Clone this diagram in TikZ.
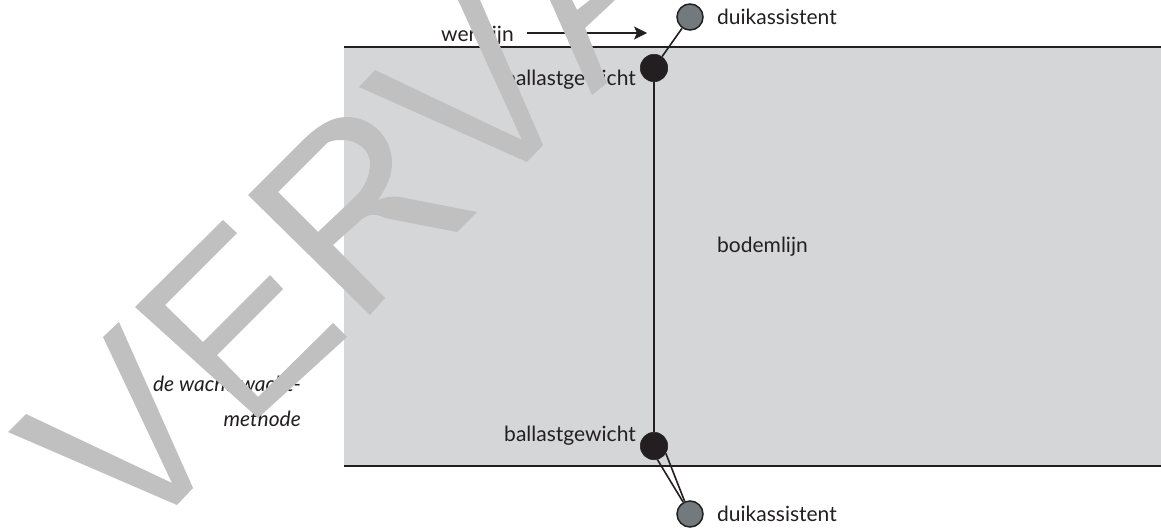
\documentclass[tikz,border=0pt]{standalone}
\usepackage{fontspec}
\usetikzlibrary{arrows.meta}
\setmainfont{Lato}
\definecolor{sea}{HTML}{D5D6D8}
\definecolor{ink}{HTML}{231F20}
\definecolor{wmgray}{HTML}{C0C0C0}
\definecolor{diver}{HTML}{727A7D}
\tikzset{
  x=1pt,y=-1pt,
  lab/.style={font=\fontsize{21}{25}\selectfont,text=ink,inner sep=0pt},
  itlab/.style={font=\fontsize{21}{25}\selectfont\itshape,text=ink,inner sep=0pt},
  rope/.style={draw=ink,line width=1.6pt},
  weight/.style={circle,fill=ink,draw=ink,line width=.5pt,minimum size=27.5pt,inner sep=0pt},
  assist/.style={circle,fill=diver,draw=ink,line width=1.5pt,minimum size=26pt,inner sep=0pt},
  wmark/.style={fill=wmgray,draw=none}
}
\begin{document}
\begin{tikzpicture}
\useasboundingbox (0,0) rectangle (1161,530);
\fill[white] (0,0) rectangle (1161,530);
\fill[sea] (344,47) rectangle (1161,466);
\coordinate (s1) at (344,47); \coordinate (s2) at (1161,47);
\coordinate (b1) at (344,466); \coordinate (b2) at (1161,466);
\draw[rope] (s1) -- (s2);
\draw[rope] (b1) -- (b2);
\node[weight] (w1) at (654,68) {};
\node[weight] (w2) at (654,446) {};
\node[assist] (a1) at (690,17) {};
\node[assist] (a2) at (690,514) {};
\draw[rope] (w1) -- (w2);
\draw[rope] (w1) -- (a1);
\draw[rope] (w2.-76) -- (a2.120);
\draw[rope] (w2.-32) -- (a2.113);
\node[lab,anchor=base west] (t1) at (717,24) {duikassistent};
\node[lab,anchor=base west] (t2) at (717,521) {duikassistent};
\node[lab,anchor=base east] (t3) at (636,85) {ballastgewicht};
\node[lab,anchor=base east] (t4) at (636,441) {ballastgewicht};
\node[lab,anchor=base west] (t5) at (717,252) {bodemlijn};
\node[lab,anchor=base west] (t6) at (441,41) {werklijn};
\coordinate (arr) at (647,33);
\coordinate (arrs) at (527,33);
\draw[draw=ink,line width=1.4pt,-{Stealth[length=13pt,width=13pt,inset=3pt]}] (arrs) -- (arr);
\node[itlab,anchor=base east] (t7) at (301,391) {de wacht-wacht-};
\node[itlab,anchor=base east] (t8) at (301,426) {methode};
% watermark
\path[wmark] (8,432) -- (26,414) -- (172,483) -- (103,337) -- (119,322) -- (193,488) -- (177,505) -- cycle;
\path[wmark] (135,307) -- (223,220) -- (237,233) -- (165,305) -- (203,342) -- (270,275) -- (283,289) -- (217,355) -- (258,397) -- (333,323) -- (347,337) -- (258,418) -- cycle;
\path[wmark,even odd rule] (248,195) -- (300,143) .. controls (318,125) and (332,117) .. (347,117) .. controls (372,117) and (392,138) .. (392,163) .. controls (392,175) and (387,187) .. (378,200) .. controls (385,197) and (392,196) .. (400,197) -- (477,212) -- (457,232) -- (385,218) .. controls (377,214) and (370,213) .. (362,219) -- (333,245) -- (385,298) -- (370,315) -- cycle
 (278,192) -- (318,232) -- (355,197) .. controls (365,188) and (370,175) .. (370,163) .. controls (370,150) and (357,140) .. (343,140) .. controls (337,140) and (332,140) .. (327,143) -- cycle;
\path[wmark] (359,87) -- (375,70) -- (522,140) -- (458,0) -- (480,0) -- (543,145) -- (527,162) -- cycle;
\path[wmark] (550,0) -- (592,95) -- (607,83) -- (585,28) -- (615,0) -- (590,0) -- (577,10) -- (572,0) -- cycle;
\end{tikzpicture}
\end{document}
